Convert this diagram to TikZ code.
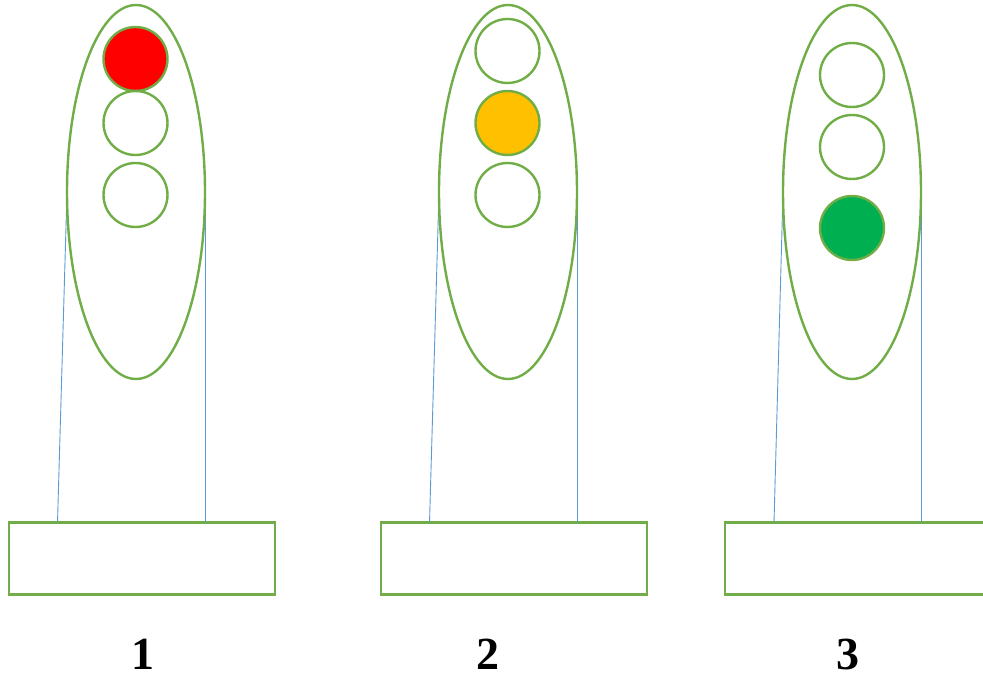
\documentclass[tikz,border=0pt]{standalone}
\usepackage{fontspec}
\setmainfont{Liberation Serif}
\usetikzlibrary{shapes.geometric}
\definecolor{gr}{HTML}{70AD47}
\definecolor{bl}{HTML}{5B9BD5}
\definecolor{lred}{HTML}{FF0000}
\definecolor{lyel}{HTML}{FFC000}
\definecolor{lgrn}{HTML}{00B050}
\tikzset{
  body/.style={draw=gr, line width=2.4pt, ellipse, minimum width=138pt, minimum height=374pt, inner sep=0pt},
  lamp/.style={draw=gr, line width=2.4pt, circle, minimum size=64pt, inner sep=0pt},
  basebox/.style={draw=gr, line width=2.4pt, rectangle, inner sep=0pt, minimum width=266pt, minimum height=72pt},
  pole/.style={draw=bl, line width=0.9pt},
  num/.style={font=\fontsize{46}{46}\selectfont\bfseries, inner sep=0pt, anchor=base}
}
\begin{document}
\begin{tikzpicture}[x=1pt,y=-1pt]
\useasboundingbox (0,0) rectangle (983,674);
% light 1
\node[basebox] (b1) at (142,558.5) {};
\coordinate (p1l) at (57.5,522.5);
\coordinate (p1r) at (205,522.5);
\coordinate (e1l) at (67,192);
\coordinate (e1r) at (205,192);
\draw[pole] (e1l) -- (p1l);
\draw[pole] (e1r) -- (p1r);
\node[body] (e1) at (136,192) {};
\node[lamp, fill=lred] (r1) at (135.5,59) {};
\node[lamp] (r2) at (135.5,123) {};
\node[lamp] (r3) at (135.5,195) {};
\node[num] (n1) at (143,669) {1};
% light 2
\node[basebox] (b2) at (514,558.5) {};
\coordinate (p2l) at (429.5,522.5);
\coordinate (p2r) at (577,522.5);
\coordinate (e2l) at (439,192);
\coordinate (e2r) at (577,192);
\draw[pole] (e2l) -- (p2l);
\draw[pole] (e2r) -- (p2r);
\node[body] (e2) at (508,192) {};
\node[lamp] (y1) at (507.5,51) {};
\node[lamp, fill=lyel] (y2) at (507.5,123) {};
\node[lamp] (y3) at (507.5,195) {};
\node[num] (n2) at (488,669) {2};
% light 3
\node[basebox] (b3) at (858,558.5) {};
\coordinate (p3l) at (774,522.5);
\coordinate (p3r) at (921.5,522.5);
\coordinate (e3l) at (783,192);
\coordinate (e3r) at (921.5,192);
\draw[pole] (e3l) -- (p3l);
\draw[pole] (e3r) -- (p3r);
\node[body] (e3) at (852,192) {};
\node[lamp] (g1) at (852,75) {};
\node[lamp] (g2) at (852,147) {};
\node[lamp, fill=lgrn] (g3) at (852,228) {};
\node[num] (n3) at (848,669) {3};
\end{tikzpicture}
\end{document}
